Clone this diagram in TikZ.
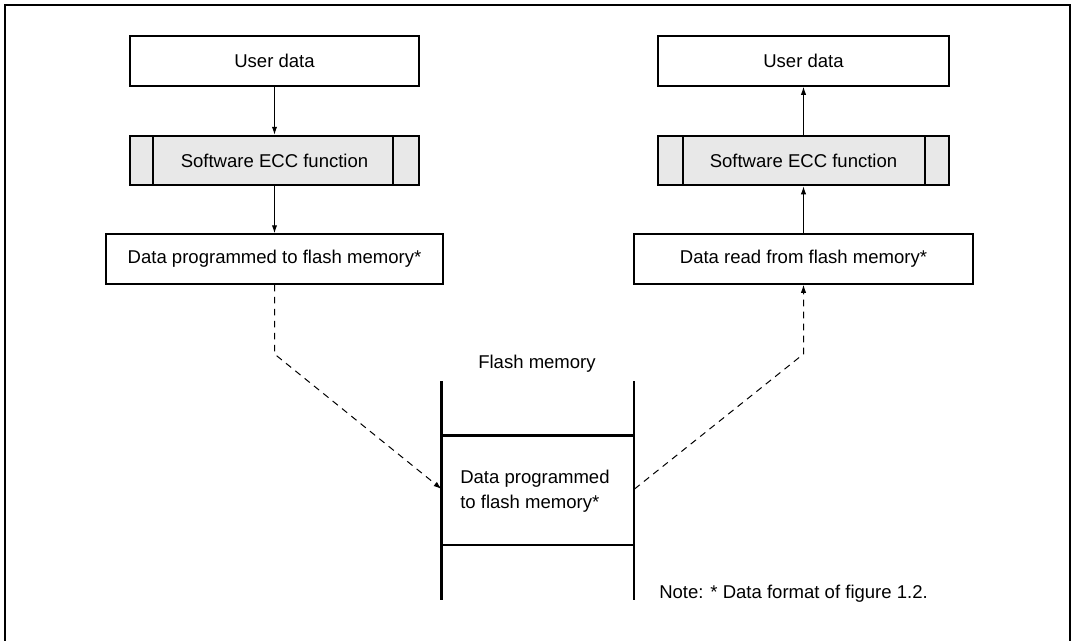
\documentclass[tikz,border=0pt]{standalone}
\usepackage{fontspec}
\setmainfont{Liberation Sans}
\usetikzlibrary{arrows.meta}
\begin{document}
\begin{tikzpicture}[x=0.75pt,y=-0.75pt,
  font=\fontsize{13.9}{17}\selectfont,
  boxline/.style={draw=black,line width=1.5pt},
  plainbox/.style={boxline,fill=white,inner sep=0pt},
  eccbox/.style={boxline,fill=black!9,inner sep=0pt},
  flow/.style={line width=0.75pt,-{Latex[length=6pt,width=4pt]}},
  dflow/.style={line width=0.75pt,dash pattern=on 5pt off 4pt,-{Latex[length=6pt,width=4pt]}},
  wall/.style={line width=1.6pt}]
\useasboundingbox (0,0) rectangle (1075,640);
\draw[line width=1.6pt] (5,641) -- (5,5) -- (1070,5) -- (1070,641);

% left column
\node[plainbox,minimum width=288.5*0.75pt,minimum height=49.5*0.75pt] (ul) at (274.5,61) {User data};
\node[eccbox,minimum width=288.5*0.75pt,minimum height=49.5*0.75pt] (el) at (274.5,160.5) {Software ECC function};
\draw[boxline] (153,135.5) -- (153,185.5) (393,135.5) -- (393,185.5);
\node[plainbox,minimum width=337*0.75pt,minimum height=49.5*0.75pt] (pl) at (274.5,259) {Data programmed to flash memory*};

% right column
\node[plainbox,minimum width=291.5*0.75pt,minimum height=49.5*0.75pt] (ur) at (803.5,61) {User data};
\node[eccbox,minimum width=291.5*0.75pt,minimum height=49.5*0.75pt] (er) at (803.5,160.5) {Software ECC function};
\draw[boxline] (682.5,135.5) -- (682.5,185.5) (925,135.5) -- (925,185.5);
\node[plainbox,minimum width=339.5*0.75pt,minimum height=49.5*0.75pt] (rr) at (803.5,259) {Data read from flash memory*};

% flash memory
\node (fmlabel) at (537,364) {Flash memory};
\draw[wall] (441.5,381) -- (441.5,600) (634,381) -- (634,600);
\draw[wall] (441.5,435.5) -- (634,435.5) (441.5,545) -- (634,545);
\node[align=left,anchor=west,inner sep=0pt,font=\fontsize{13.9}{19.2}\selectfont] (fm) at (460,491) {Data programmed\\to flash memory*};
\coordinate (fmin) at (441.5,489);
\coordinate (fmout) at (634.5,489);
\coordinate (lbend) at (274.5,354);
\coordinate (rbend) at (803.5,354);

% connectors
\draw[flow] (ul.south) -- (el.north);
\draw[flow] (el.south) -- (pl.north);
\draw[flow] (rr.north -| er.south) -- (er.south);
\draw[flow] (er.north) -- (ur.south);
\draw[dflow] (pl.south) -- (lbend) -- (fmin);
\draw[dflow] (fmout) -- (rbend) -- (rbend |- rr.south);

\node[anchor=west,inner sep=0pt] (note) at (659,594) {Note: * Data format of figure 1.2.};
\end{tikzpicture}
\end{document}
